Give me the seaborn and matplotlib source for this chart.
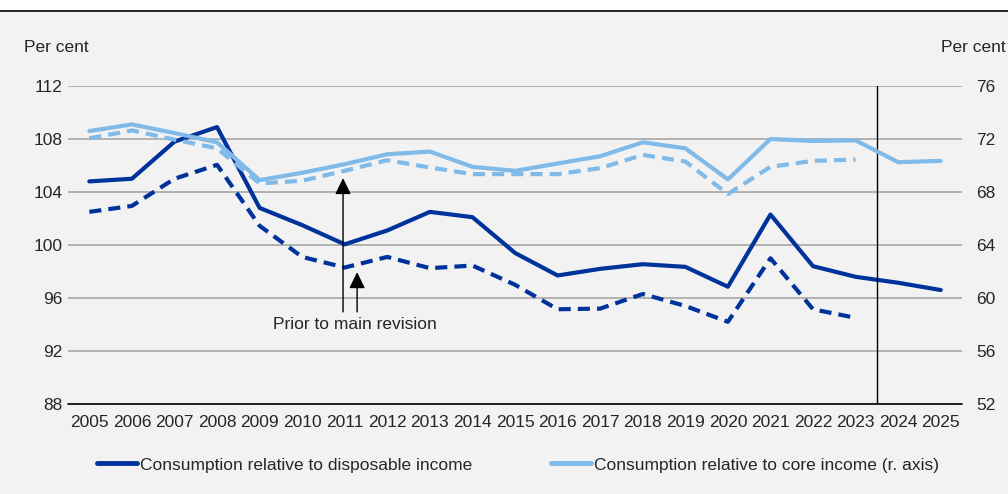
import numpy as np
import pandas as pd
import matplotlib
matplotlib.use('Agg')
import matplotlib.pyplot as plt
import seaborn as sns
from matplotlib.lines import Line2D
from matplotlib.patches import Rectangle

# Data
years = list(range(2005, 2026))
disp_income = [104.8, 105.0, 107.8, 108.9, 102.8, 101.5, 100.05, 101.1, 102.5, 102.1,
               99.4, 97.7, 98.2, 98.55, 98.35, 96.85, 102.3, 98.4, 97.6, 97.15, 96.6]
disp_income_prior = [102.5, 102.95, 105.0, 106.05, 101.45, 99.1, 98.3, 99.1, 98.25, 98.45,
                     97.0, 95.15, 95.2, 96.3, 95.4, 94.2, 99.0, 95.15, 94.5]
core_income = [72.6, 73.1, 72.45, 71.75, 68.9, 69.45, 70.1, 70.85, 71.05, 69.9,
               69.6, 70.15, 70.7, 71.75, 71.3, 68.95, 72.0, 71.85, 71.9, 70.25, 70.35]
core_income_prior = [72.05, 72.65, 71.95, 71.3, 68.65, 68.85, 69.6, 70.4, 69.85, 69.35,
                     69.35, 69.35, 69.8, 70.8, 70.3, 67.85, 69.9, 70.35, 70.45]

dark = '#00329b'
light = '#80bae8'
bg = '#f2f2f2'

sns.set_style('white')
plt.rcParams['font.family'] = ['Liberation Sans', 'DejaVu Sans']
plt.rcParams['font.size'] = 12.5

fig = plt.figure(figsize=(10.08, 4.94), dpi=100, facecolor=bg)
ax = fig.add_axes([0.0675, 0.1822, 0.8869, 0.6437], facecolor=bg)
ax2 = ax.twinx()

dash = (2.9, 1.7)
sns.lineplot(x=years, y=disp_income, ax=ax, color=dark, lw=3)
sns.lineplot(x=years[:len(disp_income_prior)], y=disp_income_prior, ax=ax, color=dark, lw=3,
             linestyle=(0, dash))
sns.lineplot(x=years, y=core_income, ax=ax2, color=light, lw=3)
sns.lineplot(x=years[:len(core_income_prior)], y=core_income_prior, ax=ax2, color=light, lw=3,
             linestyle=(0, dash))

ax.set_xlim(2004.5, 2025.5)
ax.set_ylim(88, 112)
ax2.set_ylim(52, 76)
ax.set_yticks(np.arange(88, 113, 4))
ax2.set_yticks(np.arange(52, 77, 4))
ax.set_xticks(years)
ax.set_xticklabels([str(y) for y in years])
ax.set_xticks(np.arange(2004.5, 2026, 1), minor=True)
ax.tick_params(axis='x', which='major', length=0, pad=8)
ax.tick_params(axis='x', which='minor', length=4, color='black', width=1)
ax.tick_params(axis='y', length=0, pad=4)
ax2.tick_params(axis='y', length=0, pad=10)
ax.grid(axis='y', color='#a0a0a0', lw=1.1)
ax.set_axisbelow(True)

for a in (ax, ax2):
    for s in ('top', 'left', 'right', 'bottom'):
        a.spines[s].set_visible(False)
ax.axhline(88, color='black', lw=1.2, clip_on=False, zorder=3)
ax.axvline(2023.5, color='black', lw=1)
ax.set_ylabel('')
ax2.set_ylabel('')

fig.text(24 / 1008, 1 - 48 / 494, 'Per cent', ha='left', va='center', fontsize=12.5)
fig.text(1006 / 1008, 1 - 48 / 494, 'Per cent', ha='right', va='center', fontsize=12.5)
fig.add_artist(Rectangle((0, 1 - 11 / 494), 1, 11 / 494, transform=fig.transFigure,
                         facecolor='white', edgecolor='none'))
fig.add_artist(Line2D([0, 1], [1 - 11 / 494] * 2, color='black', lw=1.2))

# arrows marking the series prior to main revision
arrow = dict(arrowstyle='-|>,head_length=0.45,head_width=0.22', mutation_scale=22,
             color='black', lw=1, shrinkA=0, shrinkB=0)
ax.annotate('', xy=(2010.96, 105.05), xytext=(2010.96, 94.95), arrowprops=arrow)
ax.annotate('', xy=(2011.29, 97.95), xytext=(2011.29, 94.95), arrowprops=arrow)
ax.text(2011.24, 94.0, 'Prior to main revision', ha='center', va='center', fontsize=12.5)

handles = [Line2D([], [], color=dark, lw=3.5),
           Line2D([], [], color=light, lw=3.5)]
labels = ['Consumption relative to disposable income',
          'Consumption relative to core income (r. axis)']
fig.legend(handles, labels, loc='center', bbox_to_anchor=(518 / 1008, 1 - 465 / 494), ncol=2,
           frameon=False, handlelength=2.3, handletextpad=0.2, columnspacing=4.5,
           fontsize=12.5)

fig.savefig('out.png', dpi=100, facecolor=bg)
